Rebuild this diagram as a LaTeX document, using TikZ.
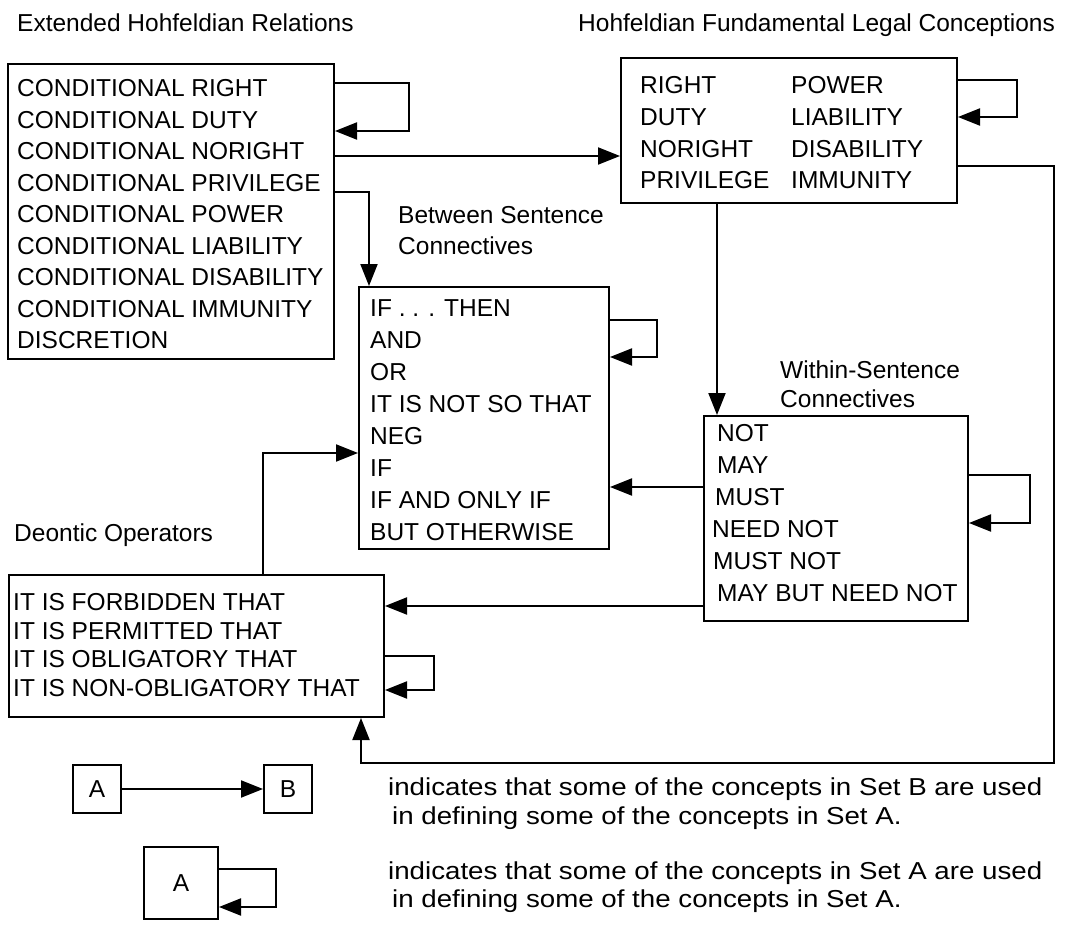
\documentclass[tikz,border=0pt]{standalone}
\usepackage{fontspec}
\setmainfont{Liberation Sans}
\newfontfamily\widefont[FakeStretch=1.13]{Liberation Sans}
\usetikzlibrary{arrows.meta}
\tikzset{
  box/.style={draw, line width=2pt, inner sep=0pt, anchor=north west},
  item/.style={anchor=west, inner sep=0pt, font=\fontsize{24.5}{30}\selectfont, text height=17.5pt, text depth=0pt},
  legtext/.style={item, font=\widefont\fontsize{24.5}{30}\selectfont},
  conn/.style={line width=2pt},
  arr/.style={conn, -{Triangle[length=22pt,width=17pt]}},
}
\begin{document}
\begin{tikzpicture}[x=1pt,y=-1pt]
\useasboundingbox (0,0) rectangle (1077,926);

% headers
\node[item] (h1) at (17,23) {Extended Hohfeldian Relations};
\node[item] (h2) at (578,23) {Hohfeldian Fundamental Legal Conceptions};
\node[item] (h3) at (398,215) {Between Sentence};
\node[item] (h4) at (398,246) {Connectives};
\node[item] (h5) at (780,370) {Within-Sentence};
\node[item] (h6) at (780,399) {Connectives};
\node[item] (h7) at (14,533) {Deontic Operators};

% Box 1
\node[box, minimum width=326pt, minimum height=295pt] (B1) at (7,63) {};
\foreach \t [count=\i] in {CONDITIONAL RIGHT, CONDITIONAL DUTY, CONDITIONAL NORIGHT, CONDITIONAL PRIVILEGE, CONDITIONAL POWER, CONDITIONAL LIABILITY, CONDITIONAL DISABILITY, CONDITIONAL IMMUNITY, DISCRETION}
  \node[item] (b1t\i) at (17,{88+31.5*(\i-1)}) {\t};

% Box 2
\node[box, minimum width=336pt, minimum height=145pt] (B2) at (620,57) {};
\foreach \t/\u [count=\i] in {RIGHT/POWER, DUTY/LIABILITY, NORIGHT/DISABILITY, PRIVILEGE/IMMUNITY}{
  \node[item] (b2a\i) at (640,{85+31.7*(\i-1)}) {\t};
  \node[item] (b2b\i) at (791,{85+31.7*(\i-1)}) {\u};
}

% Box 3
\node[box, minimum width=250pt, minimum height=262pt] (B3) at (358,286) {};
\foreach \t [count=\i] in {IF . . . THEN, AND, OR, IT IS NOT SO THAT, NEG, IF, IF AND ONLY IF, BUT OTHERWISE}
  \node[item] (b3t\i) at (370,{308+32*(\i-1)}) {\t};

% Box 5
\node[box, minimum width=264pt, minimum height=205pt] (B5) at (703,415) {};
\foreach \t/\x [count=\i] in {NOT/717, MAY/717, MUST/715, NEED NOT/712, MUST NOT/713, MAY BUT NEED NOT/717}
  \node[item] (b5t\i) at (\x,{433+31.9*(\i-1)}) {\t};

% Box 4
\node[box, minimum width=375pt, minimum height=142pt] (B4) at (8,574) {};
\foreach \t [count=\i] in {IT IS FORBIDDEN THAT, IT IS PERMITTED THAT, IT IS OBLIGATORY THAT, IT IS NON-OBLIGATORY THAT}
  \node[item] (b4t\i) at (13,{602+28.5*(\i-1)}) {\t};

% self loops
\draw[arr] ([yshift=-20pt]B1.north east) -- ++(74,0) |- ([yshift=-68pt]B1.north east);
\draw[arr] ([yshift=-23pt]B2.north east) -- ++(59,0) |- ([yshift=-60pt]B2.north east);
\draw[arr] ([yshift=-34pt]B3.north east) -- ++(47,0) |- ([yshift=-71pt]B3.north east);
\draw[arr] ([yshift=-60pt]B5.north east) -- ++(61,0) |- ([yshift=-108pt]B5.north east);
\draw[arr] ([yshift=-82pt]B4.north east) -- ++(49,0) |- ([yshift=-116pt]B4.north east);

% connectors
\coordinate (p12) at ([yshift=-93pt]B1.north east);
\draw[arr] (p12) -- (p12 -| B2.west);
\coordinate (p13) at ([yshift=-129pt]B1.north east);
\coordinate (q13) at ([xshift=11pt]B3.north west);
\draw[arr] (p13) -| (q13);
\coordinate (q25) at ([xshift=14pt]B5.north west);
\draw[arr] (q25 |- B2.south) -- (q25);
\coordinate (p24) at ([yshift=-109pt]B2.north east);
\coordinate (q24) at ([xshift=-24pt]B4.south east);
\draw[arr] (p24) -- ++(96,0) -- ++(0,597) -| (q24);
\coordinate (p53) at ([yshift=-72pt]B5.north west);
\draw[arr] (p53) -- (p53 -| B3.east);
\coordinate (p54) at ([yshift=-191pt]B5.north west);
\draw[arr] (p54) -- (p54 -| B4.east);
\coordinate (p43) at ([xshift=255pt]B4.north west);
\coordinate (q43) at ([yshift=-167pt]B3.north west);
\draw[arr] (p43) |- (q43);

% legend
\node[box, minimum width=48pt, minimum height=48pt, font=\fontsize{24.5}{30}\selectfont] (LA) at (72,764) {A};
\node[box, minimum width=48pt, minimum height=48pt, font=\fontsize{24.5}{30}\selectfont] (LB) at (263,764) {B};
\draw[arr] (LA) -- (LB);
\node[box, minimum width=74pt, minimum height=72pt, font=\fontsize{24.5}{30}\selectfont] (LA2) at (143,846) {A};
\draw[arr] ([yshift=-23pt]LA2.north east) -- ++(57,0) |- ([yshift=-61pt]LA2.north east);

\node[legtext] (l1) at (388,787) {indicates that some of the concepts in Set B are used};
\node[legtext] (l2) at (392,816) {in defining some of the concepts in Set A.};
\node[legtext] (l3) at (388,871) {indicates that some of the concepts in Set A are used};
\node[legtext] (l4) at (392,899) {in defining some of the concepts in Set A.};
\end{tikzpicture}
\end{document}
